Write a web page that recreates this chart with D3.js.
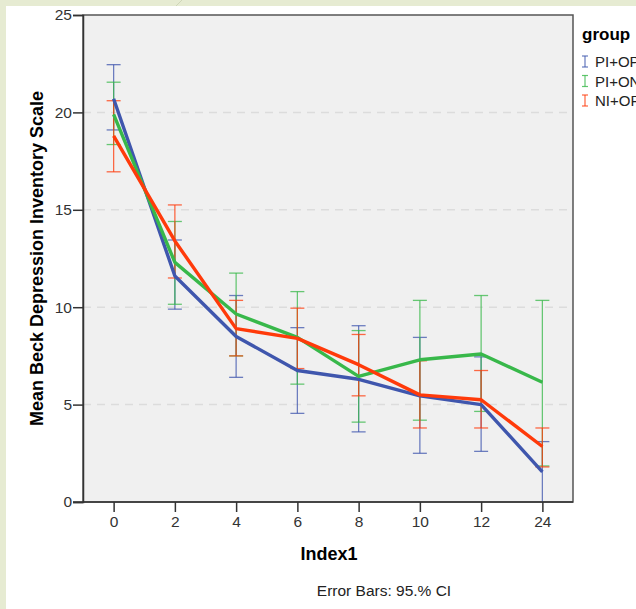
<!DOCTYPE html>
<html lang="en">
<head>
	<meta charset="UTF-8" />
	<title>Mean Beck Depression Inventory Scale</title>
	<script type="text/javascript" src="https://cdn.jsdelivr.net/npm/d3@7/dist/d3.min.js"></script>
	<style>
		body { margin: 0; background: #e6ebd2; }
		svg { display: block; font-family: "Liberation Sans", Arial, sans-serif; }
	</style>
</head>
<body>
	<svg id="vis" width="636" height="609"></svg>
	<script type="text/javascript">
		// categories (Index1)
		var categories = ["0", "2", "4", "6", "8", "10", "12", "24"];
		var groups = ["PI+OP", "PI+ON", "NI+OP"];
		var colors = ["#3f56ad", "#38b84a", "#ff3a0a"];
		var yTicks = [0, 5, 10, 15, 20, 25];

		// means per group
		var meanPIOP = [20.7, 11.6, 8.5, 6.75, 6.3, 5.45, 5.0, 1.55];
		var meanPION = [19.9, 12.3, 9.65, 8.45, 6.45, 7.3, 7.6, 6.15];
		var meanNIOP = [18.8, 13.4, 8.9, 8.4, 7.05, 5.5, 5.25, 2.85];

		// 95% CI bounds
		var loPIOP = [19.1, 9.9, 6.4, 4.55, 3.6, 2.5, 2.6, -0.5];
		var hiPIOP = [22.45, 13.45, 10.6, 8.95, 9.05, 8.45, 7.45, 3.1];
		var loPION = [18.35, 10.15, 7.5, 6.05, 4.1, 4.2, 4.65, 1.85];
		var hiPION = [21.55, 14.4, 11.75, 10.8, 8.8, 10.35, 10.6, 10.35];
		var loNIOP = [16.95, 11.5, 7.5, 6.85, 5.45, 3.8, 3.8, 1.8];
		var hiNIOP = [20.6, 15.25, 10.35, 9.95, 8.6, 7.25, 6.75, 3.8];

		var means = [meanPIOP, meanPION, meanNIOP];
		var lows = [loPIOP, loPION, loNIOP];
		var highs = [hiPIOP, hiPION, hiNIOP];

		var svg = d3.select("#vis");

		// page card
		svg.append("rect").attr("width", 636).attr("height", 609).attr("fill", "#e6ebd2");
		svg.append("line")
			.attr("x1", 182).attr("y1", 0).attr("x2", 176).attr("y2", 6)
			.attr("stroke", "#cfd6b8").attr("stroke-width", 1);
		svg.append("rect").attr("x", 6).attr("y", 6).attr("width", 630).attr("height", 603).attr("fill", "#ffffff");

		var pLeft = 83, pRight = 573, pTop = 15, pBottom = 502;

		var x = d3.scalePoint()
			.domain(categories)
			.range([pLeft, pRight])
			.padding(0.5);

		var y = d3.scaleLinear()
			.domain([0, 25])
			.range([pBottom, pTop]);

		// plot background
		svg.append("rect")
			.attr("x", pLeft).attr("y", pTop)
			.attr("width", pRight - pLeft).attr("height", pBottom - pTop)
			.attr("fill", "#f0f0f0");

		// grid
		svg.append("g").selectAll("line")
			.data(yTicks.filter(function(d) { return d > 0 && d < 25; }))
			.join("line")
			.attr("x1", pLeft).attr("x2", pRight)
			.attr("y1", function(d) { return y(d); })
			.attr("y2", function(d) { return y(d); })
			.attr("stroke", "#dcdcdc")
			.attr("stroke-width", 1.5)
			.attr("stroke-dasharray", "8,6");

		// frame
		svg.append("rect")
			.attr("x", pLeft).attr("y", pTop)
			.attr("width", pRight - pLeft).attr("height", pBottom - pTop)
			.attr("fill", "none")
			.attr("stroke", "#555").attr("stroke-width", 1.5);

		var plot = svg.append("g");
		plot.append("clipPath").attr("id", "clip")
			.append("rect")
			.attr("x", pLeft).attr("y", pTop)
			.attr("width", pRight - pLeft).attr("height", pBottom - pTop);
		var inner = plot.append("g").attr("clip-path", "url(#clip)");

		// error bars
		for (var g = 0; g < groups.length; g++) {
			var eb = inner.append("g")
				.attr("stroke", colors[g])
				.attr("stroke-opacity", 0.75)
				.attr("stroke-width", 1.3);
			for (var i = 0; i < categories.length; i++) {
				var cx = x(categories[i]);
				eb.append("line")
					.attr("x1", cx).attr("x2", cx)
					.attr("y1", y(lows[g][i])).attr("y2", y(highs[g][i]));
				eb.append("line")
					.attr("x1", cx - 7).attr("x2", cx + 7)
					.attr("y1", y(lows[g][i])).attr("y2", y(lows[g][i]));
				eb.append("line")
					.attr("x1", cx - 7).attr("x2", cx + 7)
					.attr("y1", y(highs[g][i])).attr("y2", y(highs[g][i]));
			}
		}

		// mean lines
		var line = d3.line()
			.x(function(d, i) { return x(categories[i]); })
			.y(function(d) { return y(d); });

		for (var k = 0; k < groups.length; k++) {
			inner.append("path")
				.attr("d", line(means[k]))
				.attr("fill", "none")
				.attr("stroke", colors[k])
				.attr("stroke-width", 3.4)
				.attr("stroke-linejoin", "round");
		}

		// axes
		var yAxis = d3.axisLeft(y).tickValues(yTicks).tickSize(10).tickPadding(1);
		var gy = svg.append("g")
			.attr("transform", "translate(" + pLeft + ",0)")
			.call(yAxis);
		gy.select(".domain").attr("stroke", "#333").attr("stroke-width", 1.5);
		gy.selectAll(".tick line").attr("stroke", "#333").attr("stroke-width", 1.5);
		gy.selectAll(".tick text").attr("font-size", 15.5).attr("fill", "#333");

		var xAxis = d3.axisBottom(x).tickSize(10).tickPadding(4);
		var gx = svg.append("g")
			.attr("transform", "translate(0," + pBottom + ")")
			.call(xAxis);
		gx.select(".domain").attr("d", "M" + (pLeft - 10) + ",0H" + pRight).attr("stroke", "#333").attr("stroke-width", 1.5);
		gx.selectAll(".tick line").attr("stroke", "#333").attr("stroke-width", 1.5);
		gx.selectAll(".tick text").attr("font-size", 15.5).attr("fill", "#333");

		// titles
		svg.append("text")
			.attr("transform", "translate(43," + ((pTop + pBottom) / 2) + ") rotate(-90)")
			.attr("text-anchor", "middle")
			.attr("font-size", 18).attr("font-weight", "bold")
			.text("Mean Beck Depression Inventory Scale");

		svg.append("text")
			.attr("x", 329).attr("y", 560)
			.attr("text-anchor", "middle")
			.attr("font-size", 18).attr("font-weight", "bold")
			.text("Index1");

		svg.append("text")
			.attr("x", 384).attr("y", 596)
			.attr("text-anchor", "middle")
			.attr("font-size", 15.5).attr("fill", "#222")
			.text("Error Bars: 95.% CI");

		// legend
		var legend = svg.append("g");
		legend.append("text")
			.attr("x", 582).attr("y", 40)
			.attr("font-size", 17).attr("font-weight", "bold")
			.text("group");
		groups.forEach(function(name, j) {
			var ly = 62 + j * 19.5;
			var lg = legend.append("g").attr("stroke", colors[j]).attr("stroke-opacity", 0.8).attr("stroke-width", 1.2);
			lg.append("line").attr("x1", 585).attr("x2", 585).attr("y1", ly - 6).attr("y2", ly + 5);
			lg.append("line").attr("x1", 582).attr("x2", 588).attr("y1", ly - 6).attr("y2", ly - 6);
			lg.append("line").attr("x1", 582).attr("x2", 588).attr("y1", ly + 5).attr("y2", ly + 5);
			legend.append("text")
				.attr("x", 595).attr("y", ly + 5)
				.attr("font-size", 15).attr("fill", "#222")
				.text(name);
		});
	</script>
</body>
</html>
